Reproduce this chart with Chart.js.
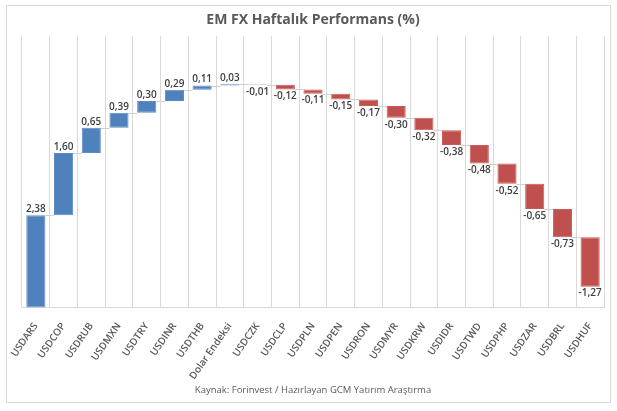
<!DOCTYPE html>
<html>
<head>
<meta charset="utf-8">
<script src="https://cdn.jsdelivr.net/npm/chart.js@4"></script>
<style>
  html, body { margin: 0; padding: 0; background: #fff; }
  #wrap { width: 617px; height: 411px; }
</style>
</head>
<body>
<div id="wrap"><canvas id="fxChart"></canvas></div>
<script>
const categories = ['USDARS', 'USDCOP', 'USDRUB', 'USDMXN', 'USDTRY', 'USDINR', 'USDTHB', 'Dolar Endeksi',
    'USDCZK', 'USDCLP', 'USDPLN', 'USDPEN', 'USDRON', 'USDMYR', 'USDKRW', 'USDIDR', 'USDTWD',
    'USDPHP', 'USDZAR', 'USDBRL', 'USDHUF'];
const changes = [2.38, 1.60, 0.65, 0.39, 0.30, 0.29, 0.11, 0.03, -0.01, -0.12, -0.11, -0.15, -0.17,
    -0.30, -0.32, -0.38, -0.48, -0.52, -0.65, -0.73, -1.27];

// waterfall: each bar floats from the running total before it to the total after it
const ranges = [];
let running = 0;
changes.forEach(function(v) {
    const start = running;
    running = Math.round((running + v) * 100) / 100;
    ranges.push([start, running]);
});

const fmt = v => v.toFixed(2).replace('.', ',');

const frame = {
    id: 'frame',
    beforeDraw(chart) {
        const ctx = chart.ctx;
        ctx.save();
        ctx.fillStyle = '#fff';
        ctx.fillRect(0, 0, chart.width, chart.height);
        ctx.strokeStyle = '#D9D9D9';
        ctx.lineWidth = 1;
        ctx.strokeRect(6.5, 5.5, 604, 397);
        ctx.restore();
    }
};

// connector lines and value labels
const waterfall = {
    id: 'waterfall',
    afterDatasetsDraw(chart) {
        const ctx = chart.ctx;
        const meta = chart.getDatasetMeta(0);
        const y = chart.scales.y;
        ctx.save();
        ctx.strokeStyle = '#D0D0D0';
        ctx.lineWidth = 1;
        for (let i = 0; i < meta.data.length - 1; i++) {
            const a = meta.data[i], b = meta.data[i + 1];
            const py = Math.round(y.getPixelForValue(ranges[i][1])) + 0.5;
            ctx.beginPath();
            ctx.moveTo(a.x + a.width / 2, py);
            ctx.lineTo(b.x - b.width / 2, py);
            ctx.stroke();
        }
        ctx.fillStyle = '#404040';
        ctx.font = '600 10px "Open Sans", sans-serif';
        ctx.textAlign = 'center';
        meta.data.forEach(function(bar, i) {
            const v = changes[i];
            if (v >= 0) {
                ctx.textBaseline = 'bottom';
                ctx.fillText(fmt(v), bar.x, y.getPixelForValue(ranges[i][1]) - 1);
            } else {
                ctx.textBaseline = 'top';
                ctx.fillText(fmt(v), bar.x, y.getPixelForValue(ranges[i][1]) + 2);
            }
        });
        ctx.restore();
    }
};

const config = {
    type: 'bar',
    data: {
        labels: categories,
        datasets: [{
            data: ranges,
            backgroundColor: changes.map(v => v >= 0 ? '#4F81BD' : '#C0504D'),
            borderColor: changes.map(v => v >= 0 ? '#5B8BC4' : '#C95A57'),
            borderWidth: 1,
            borderSkipped: false,
            barPercentage: 0.69,
            categoryPercentage: 1
        }]
    },
    options: {
        responsive: true,
        maintainAspectRatio: false,
        animation: false,
        layout: { padding: { top: 6, left: 22, right: 13, bottom: 12 } },
        scales: {
            y: { display: false, min: 0, max: 7 },
            x: {
                grid: { color: '#D9D9D9', drawTicks: false, offset: true },
                border: { color: '#D9D9D9' },
                ticks: {
                    color: '#595959',
                    font: { family: '"Open Sans", sans-serif', size: 10, weight: '600' },
                    minRotation: 55,
                    maxRotation: 55,
                    autoSkip: false,
                    padding: 13
                },
                afterFit(scale) { scale.height = 77; }
            }
        },
        plugins: {
            legend: { display: false },
            tooltip: { enabled: false },
            title: {
                display: true,
                text: 'EM FX Haftalık Performans (%)',
                color: '#595959',
                font: { family: '"Open Sans", sans-serif', size: 14, weight: 'bold' },
                padding: { top: 6, bottom: 7 }
            },
            subtitle: {
                display: true,
                position: 'bottom',
                text: 'Kaynak: Forinvest / Hazırlayan GCM Yatırım Araştırma',
                color: '#595959',
                font: { family: '"Open Sans", sans-serif', size: 9.5 },
                padding: { top: 0, bottom: 3 }
            }
        }
    },
    plugins: [frame, waterfall]
};

new Chart(document.getElementById('fxChart'), config);
</script>
</body>
</html>
